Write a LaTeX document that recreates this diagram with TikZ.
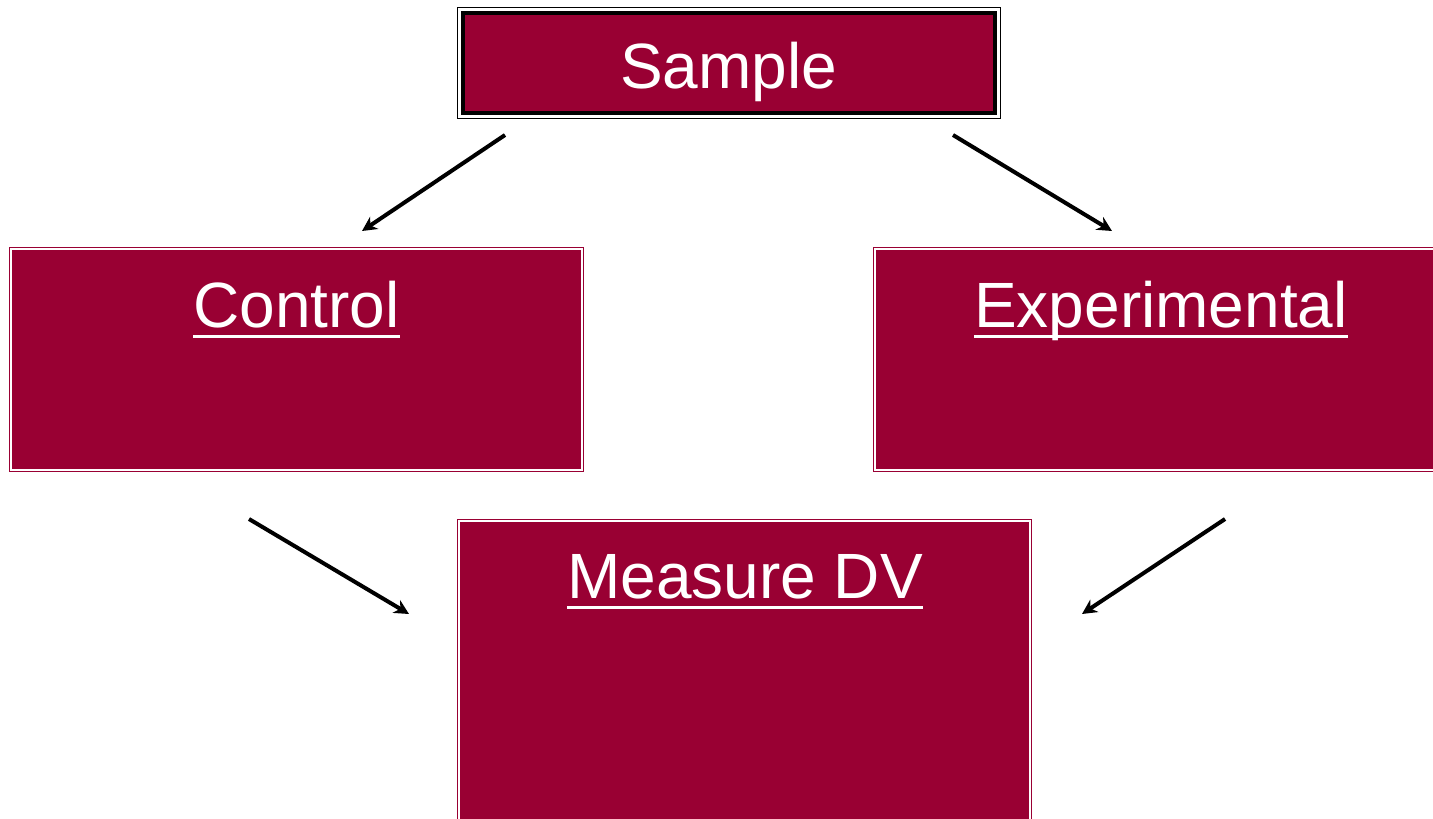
\documentclass[tikz,border=0pt]{standalone}
\usepackage{fontspec}
\setmainfont{Liberation Sans}
\usetikzlibrary{arrows.meta,calc}
\definecolor{crimson}{HTML}{990033}
\newcommand\pxu{0.75pt}
\begin{document}
\begin{tikzpicture}[x=0.75pt,y=-0.75pt,
  box/.style={rectangle, fill=crimson, draw=crimson, double=white,
    line width={1*\pxu}, double distance={2*\pxu}, inner sep=0pt},
  topbox/.style={rectangle, fill=crimson, draw=black, line width={4*\pxu},
    inner sep=0pt, outer sep=0pt},
  label/.style={text=white, inner sep=0pt, anchor=base,
    font=\fontsize{48}{58}\selectfont},
  uline/.style={white, line width={3*\pxu}},
  flow/.style={black, line width={4*\pxu},
    -{Stealth[length=11pt, width=11pt, inset=3.5pt]}}]
\useasboundingbox (0,0) rectangle (1433,818);
\clip (0,0) rectangle (1433,818);

% boxes
\node[topbox, minimum width={531.5*\pxu}, minimum height={99.5*\pxu}] (sample) at (728.75,62.75) {};
\draw[black, line width={1*\pxu}] ($(sample.north west)+(-5.5,-5.5)$) rectangle ($(sample.south east)+(5.5,5.5)$);
\node[box, minimum width={571*\pxu}, minimum height={221*\pxu}] (control) at (296.5,359.5) {};
\node[box, minimum width={572*\pxu}, minimum height={221*\pxu}] (experimental) at (1161,359.5) {};
\node[box, minimum width={571*\pxu}, minimum height={330*\pxu}] (measure) at (744.5,686) {};

% labels
\node[label] (lsample) at (728.5,88) {Sample};
\node[label] (lcontrol) at (296.5,327) {Control};
\node[label] (lexp) at (1161,327) {Experimental};
\node[label] (lmeasure) at (745,598) {Measure DV};
\draw[uline] ([shift={(0,9.5)}]lcontrol.base west) -- ([shift={(0,9.5)}]lcontrol.base east);
\draw[uline] ([shift={(0,9.5)}]lexp.base west) -- ([shift={(0,9.5)}]lexp.base east);
\draw[uline] ([shift={(0,9.5)}]lmeasure.base west) -- ([shift={(0,9.5)}]lmeasure.base east);

% connector ends
\coordinate (s1) at (505,135);
\coordinate (c1) at (362,231);
\coordinate (s2) at (953,135);
\coordinate (e1) at (1112,231);
\coordinate (c2) at (249,519);
\coordinate (m1) at (409,614);
\coordinate (e2) at (1225,519);
\coordinate (m2) at (1082,614);

% arrows
\draw[flow] (s1) -- (c1);
\draw[flow] (s2) -- (e1);
\draw[flow] (c2) -- (m1);
\draw[flow] (e2) -- (m2);
\end{tikzpicture}
\end{document}
